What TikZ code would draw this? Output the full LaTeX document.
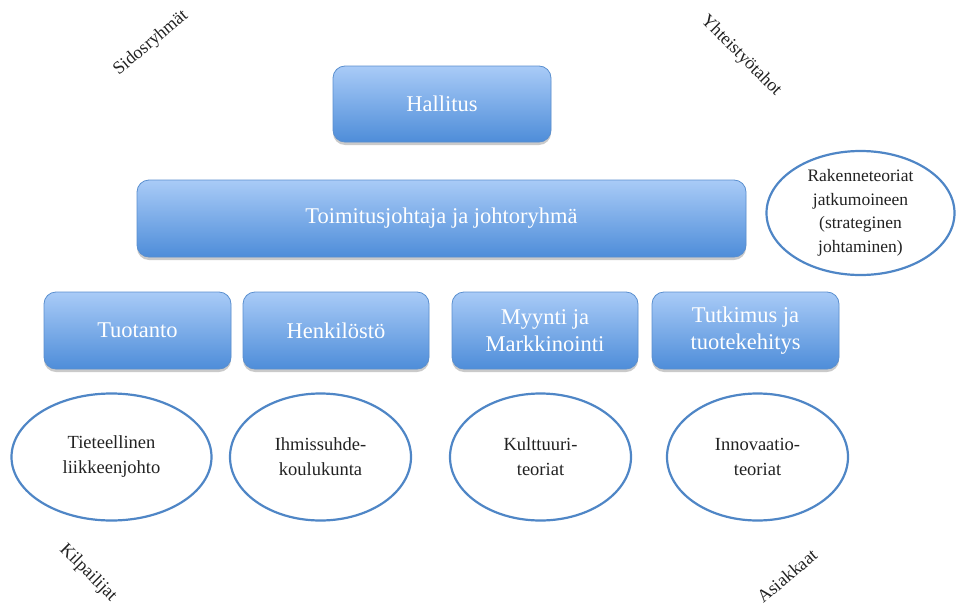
\documentclass[tikz,border=0pt]{standalone}
\usepackage{fontspec}
\setmainfont{Liberation Serif}
\usetikzlibrary{shapes.geometric,shadows}
\definecolor{boxtop}{HTML}{A9CBF7}
\definecolor{boxbot}{HTML}{4E8DD9}
\definecolor{boxline}{HTML}{5A8FCF}
\definecolor{ellline}{HTML}{4F86C6}
\definecolor{txt}{HTML}{222222}
\tikzset{
  bluebox/.style={rounded corners=12pt, top color=boxtop, bottom color=boxbot,
    draw=boxline, line width=0.8pt, text=white, font=\fontsize{22.5}{27}\selectfont,
    align=center, inner sep=0pt,
    drop shadow={shadow xshift=0pt, shadow yshift=-3pt, opacity=0.35, fill=black!60}},
  theory/.style={ellipse, draw=ellline, line width=2.2pt, fill=white, text=txt,
    font=\fontsize{18.5}{25}\selectfont, align=center, inner sep=0pt},
  corner/.style={text=txt, font=\fontsize{18}{21}\selectfont, inner sep=0pt}
}
\begin{document}
\begin{tikzpicture}[x=1pt,y=-1pt]
\useasboundingbox (0,0) rectangle (958,605);
\node[bluebox, minimum width=218pt, minimum height=76pt] (hall) at (442,104) {Hallitus};
\node[bluebox, minimum width=609pt, minimum height=77pt] (toim) at (441.5,218.5) {Toimitusjohtaja ja johtoryhmä};
\node[bluebox, minimum width=187pt, minimum height=77pt] (tuot) at (137.5,330.5) {Tuotanto};
\node[bluebox, minimum width=186pt, minimum height=77pt] (henk) at (336,330.5) {Henkilöstö};
\node[bluebox, minimum width=186pt, minimum height=77pt] (myyn) at (545,330.5) {Myynti ja\\Markkinointi};
\node[bluebox, minimum width=187pt, minimum height=77pt] (tutk) at (745.5,330.5) {Tutkimus ja\\tuotekehitys};
\node[theory, minimum width=200pt, minimum height=127pt] (tiet) at (111.5,457) {Tieteellinen\\liikkeenjohto};
\node[theory, minimum width=181pt, minimum height=127pt] (ihmi) at (320.5,457) {Ihmissuhde-\\koulukunta};
\node[theory, minimum width=181pt, minimum height=127pt] (kult) at (540.5,457) {Kulttuuri-\\teoriat};
\node[theory, minimum width=181pt, minimum height=127pt] (inno) at (757.5,457) {Innovaatio-\\teoriat};
\node[theory, minimum width=188pt, minimum height=124pt, font=\fontsize{17.5}{23.5}\selectfont] (rake) at (860.5,213) {Rakenneteoriat\\jatkumoineen\\(strateginen\\johtaminen)};
\node[corner, rotate=40] (sido) at (151,43) {Sidosryhmät};
\node[corner, rotate=-45] (yhte) at (741,56) {Yhteistyötahot};
\node[corner, rotate=-45] (kilp) at (88,573) {Kilpailijat};
\node[corner, rotate=40] (asia) at (787,576) {Asiakkaat};
\end{tikzpicture}
\end{document}
